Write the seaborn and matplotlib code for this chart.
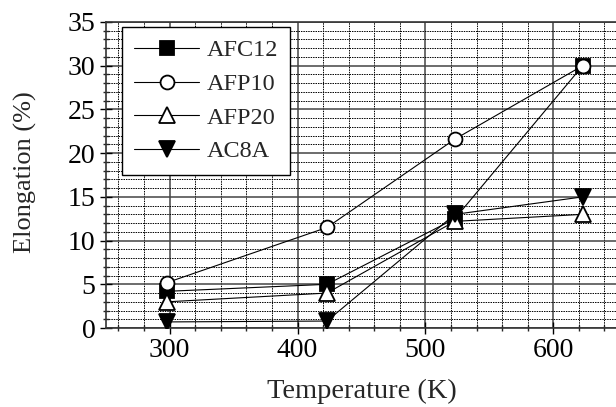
import pandas as pd
import seaborn as sns
import matplotlib.pyplot as plt
from matplotlib.ticker import MultipleLocator

# datos
temps = [298, 423, 523, 623]
afc12 = [4.2, 5.0, 12.5, 30.0]
afp10 = [5.2, 11.5, 21.6, 30.0]
afp20 = [3.0, 4.0, 12.2, 13.0]
ac8a = [0.7, 0.8, 13.0, 15.0]

series = ['AFC12', 'AFP10', 'AFP20', 'AC8A']
valores = [afc12, afp10, afp20, ac8a]
marcadores = {'AFC12': ('s', 'black', 10), 'AFP10': ('o', 'white', 10),
              'AFP20': ('^', 'white', 11), 'AC8A': ('v', 'black', 11)}

df = pd.DataFrame({'Temperature': temps * 4,
                   'Elongation': sum(valores, []),
                   'serie': [s for s in series for _ in temps]})

sns.set_style('white')
plt.rcParams['font.family'] = ['Liberation Serif', 'DejaVu Serif']
plt.rcParams['font.size'] = 20

fig = plt.figure(figsize=(6.16, 4.07), dpi=100)
ax = fig.add_axes([0.1716, 0.194, 0.8304, 0.752])

for s in series:
    m, fc, ms = marcadores[s]
    sns.lineplot(data=df[df['serie'] == s], x='Temperature', y='Elongation',
                 ax=ax, color='black', lw=0.8, marker=m, markersize=ms,
                 markerfacecolor=fc, markeredgecolor='black', markeredgewidth=1.3,
                 label=s, zorder=3)

ax.set_xlim(250, 650)
ax.set_ylim(0, 35)
ax.xaxis.set_major_locator(MultipleLocator(100))
ax.xaxis.set_minor_locator(MultipleLocator(20))
ax.yaxis.set_major_locator(MultipleLocator(5))
ax.yaxis.set_minor_locator(MultipleLocator(1))

ax.grid(which='major', color='#444444', lw=1.1, ls='-')
ax.grid(which='minor', color='black', lw=0.7, ls=(0, (1.5, 1)))
ax.set_axisbelow(True)

ax.tick_params(which='major', direction='inout', length=9, width=1, labelsize=20,
               pad=3, bottom=True, left=True, colors='black')
ax.tick_params(which='minor', direction='inout', length=5, width=1,
               bottom=True, left=True)
for sp in ax.spines.values():
    sp.set_color('#333333')
    sp.set_linewidth(1.2)

ax.set_xlabel('Temperature (K)', fontsize=20.5)
ax.set_ylabel('Elongation (%)', fontsize=19)
ax.xaxis.set_label_coords(0.5, -0.165)
ax.yaxis.set_label_coords(-0.134, 0.51)

leg = ax.legend(loc='upper left', bbox_to_anchor=(0.031, 0.983), borderaxespad=0,
                fontsize=17.5, frameon=True, fancybox=False, edgecolor='black',
                framealpha=1, handlelength=2.7, handletextpad=0.3,
                labelspacing=0.48, borderpad=0.5)
leg.get_frame().set_linewidth(1.0)

fig.savefig('out.png', dpi=100)
